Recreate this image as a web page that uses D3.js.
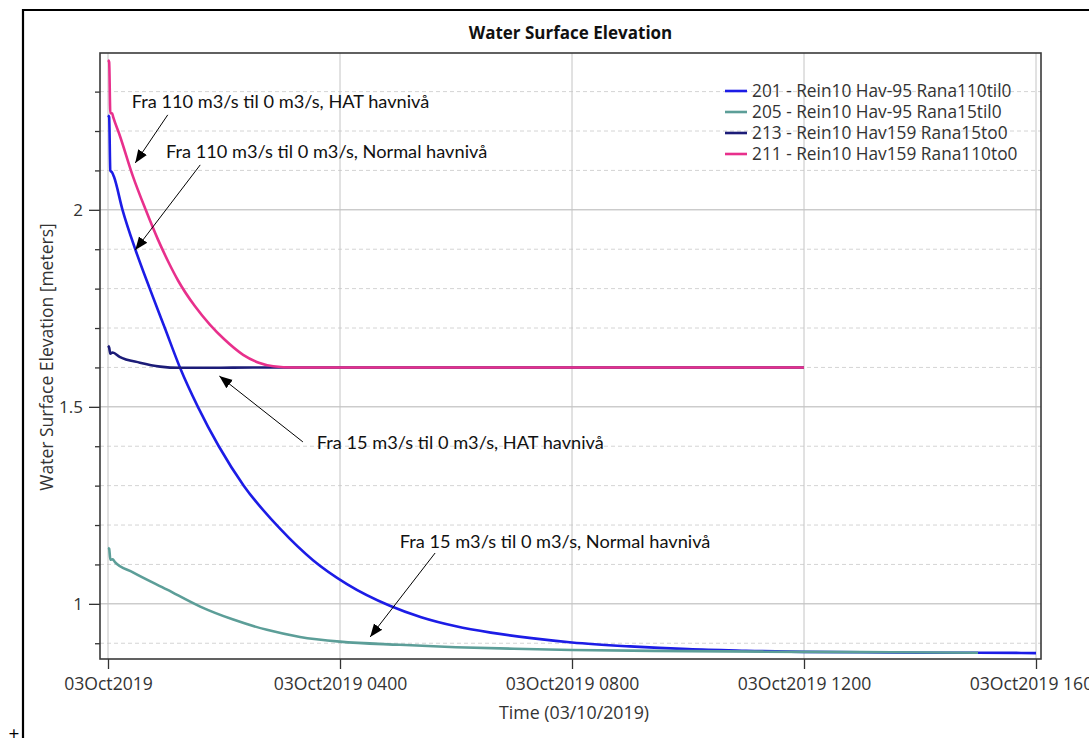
<!DOCTYPE html>
<html>
<head>
<meta charset="utf-8">
<script src="https://cdn.jsdelivr.net/npm/d3@7"></script>
<style>
body{margin:0;background:#fff;overflow:hidden;}
text{font-family:"Open Sans",sans-serif;fill:#222;}
.note{font-family:Lato,sans-serif;font-size:18.2px;fill:#111;}
</style>
</head>
<body>
<svg id="chart" width="1089" height="738"></svg>
<script>
// x ticks, hours after 03Oct2019 0000
var tickHours=[0,4,8,12,16];
var tickLabels=["03Oct2019","03Oct2019 0400","03Oct2019 0800","03Oct2019 1200","03Oct2019 1600"];
var majorY=[1,1.5,2];
var minorY=[0.9,1.1,1.2,1.3,1.4,1.6,1.7,1.8,1.9,2.1,2.2,2.3];

var seriesNames=["201 - Rein10 Hav-95 Rana110til0","205 - Rein10 Hav-95 Rana15til0","213 - Rein10 Hav159 Rana15to0","211 - Rein10 Hav159 Rana110to0"];

// 201 : 110 m3/s -> 0, normal sea level
var t201=[0,0.02,0.04,0.07,0.1,0.25,0.47,0.72,0.98,1.24,1.55,1.91,2.34,2.97,3.54,4.12,4.86,5.4,6.0,6.6,7.3,8,9,10,11,12,13,14,15,16];
var v201=[2.24,2.235,2.10,2.095,2.085,2.0,1.9,1.8,1.7,1.6,1.5,1.4,1.3,1.19,1.11,1.05,0.995,0.966,0.943,0.927,0.913,0.902,0.892,0.885,0.881,0.878,0.877,0.876,0.876,0.875];
// 205 : 15 m3/s -> 0, normal sea level
var t205=[0,0.02,0.04,0.08,0.12,0.43,1.02,1.59,2.16,2.74,3.31,4.0,5.03,6,7,8,10,12,13.5,15];
var v205=[1.142,1.14,1.112,1.113,1.106,1.08,1.036,0.993,0.96,0.934,0.916,0.904,0.896,0.89,0.886,0.883,0.88,0.878,0.877,0.876];
// 213 : 15 m3/s -> 0, HAT
var t213=[0,0.02,0.04,0.08,0.2,0.55,0.9,1.24,1.8,2.5,4,6,8,10,12];
var v213=[1.655,1.65,1.635,1.638,1.627,1.612,1.602,1.599,1.599,1.6,1.6,1.6,1.6,1.6,1.6];
// 211 : 110 m3/s -> 0, HAT
var t211=[0,0.02,0.04,0.07,0.09,0.2,0.43,0.65,0.86,1.05,1.21,1.5,1.76,2.0,2.33,2.6,2.85,3.2,4,6,8,10,12];
var v211=[2.38,2.375,2.245,2.245,2.235,2.19,2.085,2.0,1.925,1.865,1.82,1.755,1.708,1.672,1.632,1.612,1.603,1.6,1.6,1.6,1.6,1.6,1.6];

var noteTexts=["Fra 110 m3/s til 0 m3/s, HAT havnivå","Fra 110 m3/s til 0 m3/s, Normal havnivå","Fra 15 m3/s til 0 m3/s, HAT havnivå","Fra 15 m3/s til 0 m3/s, Normal havnivå"];
// anchors in data units: text start, arrow tail, arrow head
var noteAt=[[0.41,2.274],[1.0,2.147],[3.6,1.409],[5.03,1.157]];
var noteFrom=[[1.03,2.241],[1.59,2.114],[3.36,1.411],[5.64,1.129]];
var noteTo=[[0.47,2.119],[0.47,1.898],[1.92,1.578],[4.52,0.916]];

var colors=["#1c1ce6","#5c9e98","#1c1c78","#e8308c"];

var svg=d3.select("#chart");
var plotLeft=100,plotRight=1041,plotTop=53,plotBottom=659;

var x=d3.scaleLinear().domain([0,16]).range([108,1036]);
var y=d3.scaleLinear().domain([0.86,2.398]).range([plotBottom,plotTop]);

// outer frame
svg.append("path").attr("d","M23,738 V10 H1089").attr("fill","none").attr("stroke","#000").attr("stroke-width",2.2);
svg.append("text").attr("x",14).attr("y",740).attr("text-anchor","middle").style("font-size","19px").style("fill","#000").text("+");

svg.append("defs").append("clipPath").attr("id","clip").append("rect")
	.attr("x",plotLeft).attr("y",plotTop).attr("width",plotRight-plotLeft).attr("height",plotBottom-plotTop);
svg.select("defs").append("marker").attr("id","arr").attr("viewBox","0 0 10 10").attr("refX",10).attr("refY",5)
	.attr("markerWidth",13).attr("markerHeight",13).attr("markerUnits","userSpaceOnUse").attr("orient","auto")
	.append("path").attr("d","M0,1 L10,5 L0,9 Z").attr("fill","#000");

// grid
var grid=svg.append("g");
grid.selectAll(".minor").data(minorY).enter().append("line")
	.attr("x1",plotLeft).attr("x2",plotRight).attr("y1",function(d){return y(d);}).attr("y2",function(d){return y(d);})
	.style("stroke","#d4d4d4").style("stroke-dasharray","4,3").style("stroke-width",1);
grid.selectAll(".major").data(majorY).enter().append("line")
	.attr("x1",plotLeft).attr("x2",plotRight).attr("y1",function(d){return y(d);}).attr("y2",function(d){return y(d);})
	.style("stroke","#b4b4b4").style("stroke-width",1);
grid.selectAll(".vert").data(tickHours).enter().append("line")
	.attr("y1",plotTop).attr("y2",plotBottom).attr("x1",function(d){return x(d);}).attr("x2",function(d){return x(d);})
	.style("stroke","#c4c4c4").style("stroke-width",1);

// axes
var yAxis=svg.append("g").attr("transform","translate("+plotLeft+",0)")
	.call(d3.axisLeft(y).tickValues(majorY).tickSize(11).tickPadding(6).tickFormat(d3.format("")));
svg.append("g").attr("transform","translate("+plotLeft+",0)")
	.call(d3.axisLeft(y).tickValues(minorY).tickSize(5).tickFormat(""))
	.call(function(g){g.select(".domain").remove();});
yAxis.select(".domain").remove();
yAxis.selectAll("text").style("font-size","17px").style("fill","#333");

var xAxis=svg.append("g").attr("transform","translate(0,"+plotBottom+")")
	.call(d3.axisBottom(x).tickValues(tickHours).tickSize(10).tickPadding(9).tickFormat(function(d,i){return tickLabels[i];}));
xAxis.select(".domain").remove();
xAxis.selectAll("text").style("font-size","17.6px").style("fill","#333");
svg.selectAll(".tick line").style("stroke","#333").style("stroke-width",1.3);

// series
var line=d3.line().x(function(d){return x(d[0]);}).y(function(d){return y(d[1]);}).curve(d3.curveMonotoneX);
var series=[d3.zip(t201,v201),d3.zip(t205,v205),d3.zip(t213,v213),d3.zip(t211,v211)];
var plot=svg.append("g").attr("clip-path","url(#clip)");
plot.selectAll("path").data(series).enter().append("path")
	.attr("d",line).attr("fill","none")
	.style("stroke",function(d,i){return colors[i];}).style("stroke-width",2.6);

// plot frame
svg.append("rect").attr("x",plotLeft).attr("y",plotTop).attr("width",plotRight-plotLeft).attr("height",plotBottom-plotTop)
	.attr("fill","none").style("stroke","#3a3a3a").style("stroke-width",1.6);

// title and axis labels
svg.append("text").attr("x",(plotLeft+plotRight)/2).attr("y",39).attr("text-anchor","middle")
	.style("font-size","17px").style("font-weight","bold").style("fill","#111").text("Water Surface Elevation");
svg.append("text").attr("transform","translate(53,357) rotate(-90)").attr("text-anchor","middle")
	.style("font-size","17.5px").style("fill","#333").text("Water Surface Elevation [meters]");
svg.append("text").attr("x",574).attr("y",719).attr("text-anchor","middle")
	.style("font-size","17.8px").style("fill","#333").text("Time (03/10/2019)");

// legend
var leg=svg.append("g").attr("transform","translate(725,91)");
var row=leg.selectAll("g").data(seriesNames).enter().append("g")
	.attr("transform",function(d,i){return "translate(0,"+(i*21)+")";});
row.append("line").attr("x1",0).attr("x2",22).style("stroke",function(d,i){return colors[i];}).style("stroke-width",2.6);
row.append("text").attr("x",27).attr("dy","0.35em").style("font-size","17.3px").style("fill","#333").text(function(d){return d;});

// annotations
var notes=svg.append("g");
noteTexts.forEach(function(txt,i){
	notes.append("line")
		.attr("x1",x(noteFrom[i][0])).attr("y1",y(noteFrom[i][1]))
		.attr("x2",x(noteTo[i][0])).attr("y2",y(noteTo[i][1]))
		.style("stroke","#000").style("stroke-width",1).attr("marker-end","url(#arr)");
	notes.append("text").attr("class","note")
		.attr("x",x(noteAt[i][0])).attr("y",y(noteAt[i][1])).attr("dy","0.35em").text(txt);
});
</script>
</body>
</html>
